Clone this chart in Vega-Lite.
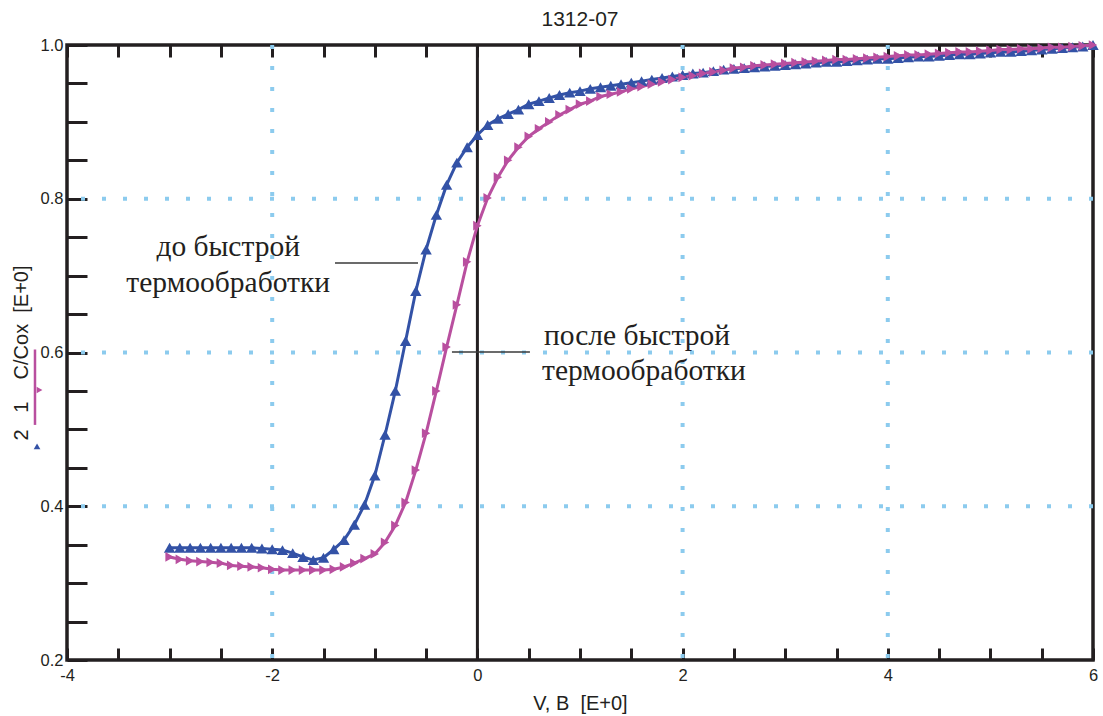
{
  "$schema": "https://vega.github.io/schema/vega-lite/v6.json",
  "width": 1026,
  "height": 615,
  "autosize": {"type": "none"},
  "padding": {"left": 67, "top": 45, "right": 10, "bottom": 56},
  "background": "white",
  "title": {"text": "1312-07", "fontSize": 21, "font": "Liberation Sans", "fontWeight": "normal", "color": "#231f20", "offset": 11, "dy": 4, "anchor": "middle"},
  "config": {
    "view": {"stroke": "#231f20", "strokeWidth": 3.5},
    "axis": {"labelFont": "Liberation Sans", "titleFont": "Liberation Sans", "labelColor": "#231f20", "titleColor": "#231f20", "domain": false, "grid": false, "labelFontSize": 16.5, "titleFontSize": 20, "titleFontWeight": "normal", "tickColor": "#231f20"}
  },
  "datasets": {
    "curves": [
      {"s": "1", "x": -3.0, "y": 0.346}, {"s": "1", "x": -2.9, "y": 0.346}, {"s": "1", "x": -2.8, "y": 0.346}, {"s": "1", "x": -2.7, "y": 0.346}, {"s": "1", "x": -2.6, "y": 0.346}, {"s": "1", "x": -2.5, "y": 0.346}, {"s": "1", "x": -2.4, "y": 0.346}, {"s": "1", "x": -2.3, "y": 0.346}, {"s": "1", "x": -2.2, "y": 0.346}, {"s": "1", "x": -2.1, "y": 0.345},
      {"s": "1", "x": -2.0, "y": 0.344}, {"s": "1", "x": -1.9, "y": 0.343}, {"s": "1", "x": -1.8, "y": 0.339}, {"s": "1", "x": -1.7, "y": 0.334}, {"s": "1", "x": -1.6, "y": 0.330}, {"s": "1", "x": -1.5, "y": 0.333}, {"s": "1", "x": -1.4, "y": 0.344}, {"s": "1", "x": -1.3, "y": 0.356}, {"s": "1", "x": -1.2, "y": 0.376}, {"s": "1", "x": -1.1, "y": 0.402},
      {"s": "1", "x": -1.0, "y": 0.440}, {"s": "1", "x": -0.9, "y": 0.493}, {"s": "1", "x": -0.8, "y": 0.550}, {"s": "1", "x": -0.7, "y": 0.615}, {"s": "1", "x": -0.6, "y": 0.680}, {"s": "1", "x": -0.5, "y": 0.734}, {"s": "1", "x": -0.4, "y": 0.779}, {"s": "1", "x": -0.3, "y": 0.818}, {"s": "1", "x": -0.2, "y": 0.847}, {"s": "1", "x": -0.1, "y": 0.867},
      {"s": "1", "x": 0.0, "y": 0.883}, {"s": "1", "x": 0.1, "y": 0.896}, {"s": "1", "x": 0.2, "y": 0.904}, {"s": "1", "x": 0.3, "y": 0.910}, {"s": "1", "x": 0.4, "y": 0.916}, {"s": "1", "x": 0.5, "y": 0.923}, {"s": "1", "x": 0.6, "y": 0.927}, {"s": "1", "x": 0.7, "y": 0.931}, {"s": "1", "x": 0.8, "y": 0.935}, {"s": "1", "x": 0.9, "y": 0.938},
      {"s": "1", "x": 1.0, "y": 0.940}, {"s": "1", "x": 1.1, "y": 0.943}, {"s": "1", "x": 1.2, "y": 0.945}, {"s": "1", "x": 1.3, "y": 0.947}, {"s": "1", "x": 1.4, "y": 0.949}, {"s": "1", "x": 1.5, "y": 0.951}, {"s": "1", "x": 1.6, "y": 0.953}, {"s": "1", "x": 1.7, "y": 0.955}, {"s": "1", "x": 1.8, "y": 0.957}, {"s": "1", "x": 1.9, "y": 0.959},
      {"s": "1", "x": 2.0, "y": 0.961}, {"s": "1", "x": 2.1, "y": 0.963}, {"s": "1", "x": 2.2, "y": 0.964}, {"s": "1", "x": 2.3, "y": 0.966}, {"s": "1", "x": 2.4, "y": 0.968}, {"s": "1", "x": 2.5, "y": 0.969}, {"s": "1", "x": 2.6, "y": 0.970}, {"s": "1", "x": 2.7, "y": 0.971}, {"s": "1", "x": 2.8, "y": 0.972}, {"s": "1", "x": 2.9, "y": 0.973},
      {"s": "1", "x": 3.0, "y": 0.974}, {"s": "1", "x": 3.1, "y": 0.975}, {"s": "1", "x": 3.2, "y": 0.976}, {"s": "1", "x": 3.3, "y": 0.977}, {"s": "1", "x": 3.4, "y": 0.978}, {"s": "1", "x": 3.5, "y": 0.978}, {"s": "1", "x": 3.6, "y": 0.979}, {"s": "1", "x": 3.7, "y": 0.980}, {"s": "1", "x": 3.8, "y": 0.981}, {"s": "1", "x": 3.9, "y": 0.982},
      {"s": "1", "x": 4.0, "y": 0.982}, {"s": "1", "x": 4.1, "y": 0.983}, {"s": "1", "x": 4.2, "y": 0.984}, {"s": "1", "x": 4.3, "y": 0.985}, {"s": "1", "x": 4.4, "y": 0.985}, {"s": "1", "x": 4.5, "y": 0.986}, {"s": "1", "x": 4.6, "y": 0.987}, {"s": "1", "x": 4.7, "y": 0.988}, {"s": "1", "x": 4.8, "y": 0.988}, {"s": "1", "x": 4.9, "y": 0.989},
      {"s": "1", "x": 5.0, "y": 0.990}, {"s": "1", "x": 5.1, "y": 0.991}, {"s": "1", "x": 5.2, "y": 0.991}, {"s": "1", "x": 5.3, "y": 0.992}, {"s": "1", "x": 5.4, "y": 0.993}, {"s": "1", "x": 5.5, "y": 0.994}, {"s": "1", "x": 5.6, "y": 0.995}, {"s": "1", "x": 5.7, "y": 0.996}, {"s": "1", "x": 5.8, "y": 0.997}, {"s": "1", "x": 5.9, "y": 0.998}, {"s": "1", "x": 6.0, "y": 1.0},
      {"s": "2", "x": -3.0, "y": 0.334}, {"s": "2", "x": -2.9, "y": 0.331}, {"s": "2", "x": -2.8, "y": 0.329}, {"s": "2", "x": -2.7, "y": 0.328}, {"s": "2", "x": -2.6, "y": 0.327}, {"s": "2", "x": -2.5, "y": 0.326}, {"s": "2", "x": -2.4, "y": 0.323}, {"s": "2", "x": -2.3, "y": 0.322}, {"s": "2", "x": -2.2, "y": 0.321}, {"s": "2", "x": -2.1, "y": 0.320},
      {"s": "2", "x": -2.0, "y": 0.318}, {"s": "2", "x": -1.9, "y": 0.317}, {"s": "2", "x": -1.8, "y": 0.317}, {"s": "2", "x": -1.7, "y": 0.317}, {"s": "2", "x": -1.6, "y": 0.317}, {"s": "2", "x": -1.5, "y": 0.317}, {"s": "2", "x": -1.4, "y": 0.318}, {"s": "2", "x": -1.3, "y": 0.321}, {"s": "2", "x": -1.2, "y": 0.326}, {"s": "2", "x": -1.1, "y": 0.332},
      {"s": "2", "x": -1.0, "y": 0.338}, {"s": "2", "x": -0.9, "y": 0.353}, {"s": "2", "x": -0.8, "y": 0.375}, {"s": "2", "x": -0.7, "y": 0.405}, {"s": "2", "x": -0.6, "y": 0.447}, {"s": "2", "x": -0.5, "y": 0.495}, {"s": "2", "x": -0.4, "y": 0.550}, {"s": "2", "x": -0.3, "y": 0.607}, {"s": "2", "x": -0.2, "y": 0.662}, {"s": "2", "x": -0.1, "y": 0.718},
      {"s": "2", "x": 0.0, "y": 0.765}, {"s": "2", "x": 0.1, "y": 0.801}, {"s": "2", "x": 0.2, "y": 0.828}, {"s": "2", "x": 0.3, "y": 0.850}, {"s": "2", "x": 0.4, "y": 0.867}, {"s": "2", "x": 0.5, "y": 0.881}, {"s": "2", "x": 0.6, "y": 0.891}, {"s": "2", "x": 0.7, "y": 0.900}, {"s": "2", "x": 0.8, "y": 0.909}, {"s": "2", "x": 0.9, "y": 0.916},
      {"s": "2", "x": 1.0, "y": 0.923}, {"s": "2", "x": 1.1, "y": 0.927}, {"s": "2", "x": 1.2, "y": 0.933}, {"s": "2", "x": 1.3, "y": 0.936}, {"s": "2", "x": 1.4, "y": 0.939}, {"s": "2", "x": 1.5, "y": 0.943}, {"s": "2", "x": 1.6, "y": 0.946}, {"s": "2", "x": 1.7, "y": 0.949}, {"s": "2", "x": 1.8, "y": 0.952}, {"s": "2", "x": 1.9, "y": 0.955},
      {"s": "2", "x": 2.0, "y": 0.958}, {"s": "2", "x": 2.1, "y": 0.960}, {"s": "2", "x": 2.2, "y": 0.963}, {"s": "2", "x": 2.3, "y": 0.965}, {"s": "2", "x": 2.4, "y": 0.967}, {"s": "2", "x": 2.5, "y": 0.970}, {"s": "2", "x": 2.6, "y": 0.971}, {"s": "2", "x": 2.7, "y": 0.973}, {"s": "2", "x": 2.8, "y": 0.974}, {"s": "2", "x": 2.9, "y": 0.975},
      {"s": "2", "x": 3.0, "y": 0.976}, {"s": "2", "x": 3.1, "y": 0.977}, {"s": "2", "x": 3.2, "y": 0.978}, {"s": "2", "x": 3.3, "y": 0.979}, {"s": "2", "x": 3.4, "y": 0.980}, {"s": "2", "x": 3.5, "y": 0.981}, {"s": "2", "x": 3.6, "y": 0.981}, {"s": "2", "x": 3.7, "y": 0.982}, {"s": "2", "x": 3.8, "y": 0.983}, {"s": "2", "x": 3.9, "y": 0.984},
      {"s": "2", "x": 4.0, "y": 0.985}, {"s": "2", "x": 4.1, "y": 0.986}, {"s": "2", "x": 4.2, "y": 0.987}, {"s": "2", "x": 4.3, "y": 0.987}, {"s": "2", "x": 4.4, "y": 0.988}, {"s": "2", "x": 4.5, "y": 0.989}, {"s": "2", "x": 4.6, "y": 0.990}, {"s": "2", "x": 4.7, "y": 0.991}, {"s": "2", "x": 4.8, "y": 0.991}, {"s": "2", "x": 4.9, "y": 0.992},
      {"s": "2", "x": 5.0, "y": 0.993}, {"s": "2", "x": 5.1, "y": 0.994}, {"s": "2", "x": 5.2, "y": 0.994}, {"s": "2", "x": 5.3, "y": 0.995}, {"s": "2", "x": 5.4, "y": 0.995}, {"s": "2", "x": 5.5, "y": 0.996}, {"s": "2", "x": 5.6, "y": 0.997}, {"s": "2", "x": 5.7, "y": 0.997}, {"s": "2", "x": 5.8, "y": 0.998}, {"s": "2", "x": 5.9, "y": 0.999}, {"s": "2", "x": 6.0, "y": 1.0}
    ]
  },
  "resolve": {"axis": {"x": "independent", "y": "independent"}},
  "layer": [
    {
      "data": {"values": [{"g": -2}, {"g": 2}, {"g": 4}]},
      "mark": {"type": "rule", "color": "#8ccbee", "strokeWidth": 4, "strokeDash": [4, 17]},
      "encoding": {
        "x": {"field": "g", "type": "quantitative", "scale": {"domain": [-4, 6], "nice": false, "zero": false},
          "axis": {"orient": "bottom", "title": null, "labels": false, "ticks": true, "tickSize": {"expr": "-12"}, "tickWidth": 3, "values": [-4, -3.5, -3, -2.5, -2, -1.5, -1, -0.5, 0, 0.5, 1, 1.5, 2, 2.5, 3, 3.5, 4, 4.5, 5, 5.5, 6]}}
      }
    },
    {
      "data": {"values": [{"g": 0.4}, {"g": 0.6}, {"g": 0.8}]},
      "mark": {"type": "rule", "color": "#8ccbee", "strokeWidth": 4, "strokeDash": [4, 17]},
      "encoding": {
        "y": {"field": "g", "type": "quantitative", "scale": {"domain": [0.2, 1.0], "nice": false, "zero": false},
          "axis": {"orient": "left", "title": null, "labels": false, "ticks": true, "tickSize": {"expr": "-20"}, "tickWidth": 3, "values": [0.2, 0.25, 0.3, 0.35, 0.4, 0.45, 0.5, 0.55, 0.6, 0.65, 0.7, 0.75, 0.8, 0.85, 0.9, 0.95, 1.0]}}
      }
    },
    {
      "data": {"values": [{"g": 0}]},
      "mark": {"type": "rule", "color": "#231f20", "strokeWidth": 3},
      "encoding": {"x": {"field": "g", "type": "quantitative", "scale": {"domain": [-4, 6]}, "axis": null}}
    },
    {
      "data": {"values": [{"x": -1.388, "x2": -0.579, "y": 0.7164}, {"x": -0.248, "x2": 0.512, "y": 0.6007}]},
      "mark": {"type": "rule", "color": "#3a3a3a", "strokeWidth": 1.5},
      "encoding": {
        "x": {"field": "x", "type": "quantitative", "scale": {"domain": [-4, 6]}, "axis": null},
        "x2": {"field": "x2"},
        "y": {"field": "y", "type": "quantitative", "scale": {"domain": [0.2, 1.0]}, "axis": null}
      }
    },
    {
      "data": {"name": "curves"},
      "mark": {"type": "line", "strokeWidth": 3},
      "encoding": {
        "x": {"field": "x", "type": "quantitative", "scale": {"domain": [-4, 6], "nice": false, "zero": false},
          "axis": {"orient": "bottom", "title": "V, B\u00a0\u00a0[E+0]", "ticks": false, "labelPadding": 7, "labelFlush": false, "titlePadding": 10, "labelFontSize": 16.5, "titleFontSize": 20, "labelFont": "Liberation Sans", "titleFont": "Liberation Sans", "values": [-4, -2, 0, 2, 4, 6], "labelExpr": "'' + datum.value"}},
        "y": {"field": "y", "type": "quantitative", "scale": {"domain": [0.2, 1.0], "nice": false, "zero": false},
          "axis": {"orient": "left", "title": "2\u00a0\u00a0\u00a01\u00a0\u00a0\u00a0\u00a0C/Cox\u00a0\u00a0[E+0]", "ticks": false, "labelPadding": 4, "labelFlush": false, "labelBaseline": "middle", "titlePadding": 9, "labelFontSize": 16.5, "titleFontSize": 20, "labelFont": "Liberation Sans", "titleFont": "Liberation Sans", "values": [0.2, 0.4, 0.6, 0.8, 1.0], "format": ".1f"}},
        "color": {"field": "s", "type": "nominal", "scale": {"domain": ["1", "2"], "range": ["#3352a6", "#b94f9f"]}, "legend": null}
      }
    },
    {
      "data": {"name": "curves"},
      "transform": [{"filter": "datum.s == '1'"}],
      "mark": {"type": "point", "shape": "triangle-up", "filled": true, "opacity": 1, "size": 130, "color": "#3352a6"},
      "encoding": {
        "x": {"field": "x", "type": "quantitative", "scale": {"domain": [-4, 6]},
          "axis": {"orient": "top", "title": null, "labels": false, "ticks": true, "tickSize": {"expr": "-12"}, "tickWidth": 3, "values": [-4, -3.5, -3, -2.5, -2, -1.5, -1, -0.5, 0, 0.5, 1, 1.5, 2, 2.5, 3, 3.5, 4, 4.5, 5, 5.5, 6]}},
        "y": {"field": "y", "type": "quantitative", "scale": {"domain": [0.2, 1.0]}, "axis": null}
      }
    },
    {
      "data": {"name": "curves"},
      "transform": [{"filter": "datum.s == '2'"}],
      "mark": {"type": "point", "shape": "triangle-right", "filled": true, "opacity": 1, "size": 95, "color": "#b94f9f"},
      "encoding": {
        "x": {"field": "x", "type": "quantitative", "scale": {"domain": [-4, 6]}, "axis": null},
        "y": {"field": "y", "type": "quantitative", "scale": {"domain": [0.2, 1.0]}, "axis": null}
      }
    },
    {
      "data": {"values": [
        {"x": -2.429, "y": 0.7255, "t": "до быстрой"},
        {"x": -2.429, "y": 0.6787, "t": "термообработки"},
        {"x": 1.555, "y": 0.6098, "t": "после быстрой"},
        {"x": 1.623, "y": 0.5642, "t": "термообработки"}
      ]},
      "mark": {"type": "text", "font": "Liberation Serif", "fontSize": 29.5, "color": "#231f20", "align": "center", "baseline": "alphabetic"},
      "encoding": {
        "x": {"field": "x", "type": "quantitative", "scale": {"domain": [-4, 6]}, "axis": null},
        "y": {"field": "y", "type": "quantitative", "scale": {"domain": [0.2, 1.0]}, "axis": null},
        "text": {"field": "t"}
      }
    },
    {
      "data": {"values": [{"x": -4.312, "y": 0.6039, "y2": 0.5058}]},
      "mark": {"type": "rule", "color": "#b94f9f", "strokeWidth": 2.5},
      "encoding": {
        "x": {"field": "x", "type": "quantitative", "scale": {"domain": [-4, 6]}, "axis": null},
        "y": {"field": "y", "type": "quantitative", "scale": {"domain": [0.2, 1.0]}, "axis": null},
        "y2": {"field": "y2"}
      }
    },
    {
      "data": {"values": [{"x": -4.292, "y": 0.478, "c": "1"}, {"x": -4.268, "y": 0.5512, "c": "2"}]},
      "mark": {"type": "point", "filled": true, "opacity": 1, "size": 45},
      "encoding": {
        "x": {"field": "x", "type": "quantitative", "scale": {"domain": [-4, 6]}, "axis": null},
        "y": {"field": "y", "type": "quantitative", "scale": {"domain": [0.2, 1.0]}, "axis": null},
        "shape": {"field": "c", "type": "nominal", "scale": {"domain": ["1", "2"], "range": ["triangle-up", "triangle-right"]}, "legend": null},
        "color": {"field": "c", "type": "nominal", "scale": {"domain": ["1", "2"], "range": ["#3352a6", "#b94f9f"]}, "legend": null}
      }
    }
  ]
}
